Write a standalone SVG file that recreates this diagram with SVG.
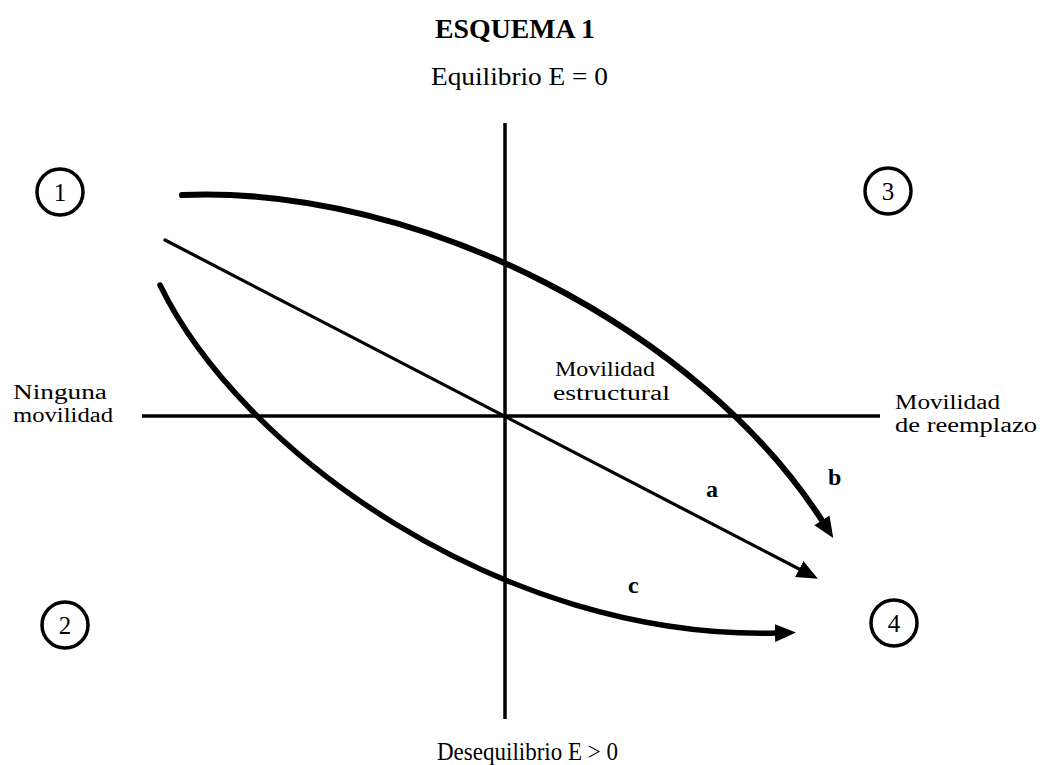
<svg xmlns="http://www.w3.org/2000/svg" width="1042" height="765" viewBox="0 0 1042 765">
<style>
  .t { font-family: "Liberation Serif", "Times New Roman", serif; fill: #000; }
  .lbl { font-size: 25px; }
  .lbl2 { font-size: 20.5px; }
  .num { font-size: 25px; text-anchor: middle; }
  .let { font-size: 24px; font-weight: bold; }
  .circ { fill: none; stroke: #000; stroke-width: 3.5; }
  .axis { fill: none; stroke: #000; stroke-width: 3.5; }
  .arc { fill: none; stroke: #000; stroke-linecap: round; }
</style>
<defs>
  <marker id="ah" markerUnits="userSpaceOnUse" markerWidth="24" markerHeight="20" refX="2" refY="9" orient="auto">
    <path d="M0,0 L21,9 L0,18 Z" fill="#000"/>
  </marker>
</defs>
<rect width="1042" height="765" fill="#fff"/>

<g id="title">
  <text class="t" x="515" y="38" font-size="27" font-weight="bold" text-anchor="middle" textLength="160" lengthAdjust="spacingAndGlyphs">ESQUEMA 1</text>
</g>

<g id="axes">
  <line class="axis" x1="505" y1="123" x2="505" y2="719"/>
  <line class="axis" x1="142" y1="416" x2="880" y2="416"/>
</g>

<g id="axis-labels">
  <text class="t lbl" x="431" y="85" textLength="177" lengthAdjust="spacingAndGlyphs">Equilibrio E = 0</text>
  <text class="t lbl" x="437" y="760" textLength="181" lengthAdjust="spacingAndGlyphs">Desequilibrio E &gt; 0</text>
  <text class="t lbl2" x="13" y="399" textLength="94" lengthAdjust="spacingAndGlyphs">Ninguna</text>
  <text class="t lbl2" x="13" y="422" textLength="100" lengthAdjust="spacingAndGlyphs">movilidad</text>
  <text class="t lbl2" x="895" y="409" textLength="105" lengthAdjust="spacingAndGlyphs">Movilidad</text>
  <text class="t lbl2" x="895" y="432" textLength="142" lengthAdjust="spacingAndGlyphs">de reemplazo</text>
  <text class="t lbl2" x="555" y="376" textLength="100" lengthAdjust="spacingAndGlyphs">Movilidad</text>
  <text class="t lbl2" x="553" y="400" textLength="117" lengthAdjust="spacingAndGlyphs">estructural</text>
</g>

<g id="node-1">
  <circle class="circ" cx="60" cy="192" r="23"/>
  <text class="t num" x="60" y="201">1</text>
</g>
<g id="node-2">
  <circle class="circ" cx="65" cy="625" r="23"/>
  <text class="t num" x="65" y="634">2</text>
</g>
<g id="node-3">
  <circle class="circ" cx="888" cy="191" r="23"/>
  <text class="t num" x="888" y="200">3</text>
</g>
<g id="node-4">
  <circle class="circ" cx="894" cy="623" r="23"/>
  <text class="t num" x="894" y="632">4</text>
</g>

<g id="connectors">
  <path id="arrow-b" class="arc" stroke-width="6" d="M182,195 C420,185 700,330 823,522" marker-end="url(#ah)"/>
  <path id="arrow-a" class="arc" stroke-width="3.2" d="M165,240 L801,570" marker-end="url(#ah)"/>
  <path id="arrow-c" class="arc" stroke-width="5.5" d="M160,285 C240,450 500,640 777,633" marker-end="url(#ah)"/>
  <text class="t let" x="706" y="497">a</text>
  <text class="t let" x="828" y="485">b</text>
  <text class="t let" x="628" y="593">c</text>
</g>
</svg>
